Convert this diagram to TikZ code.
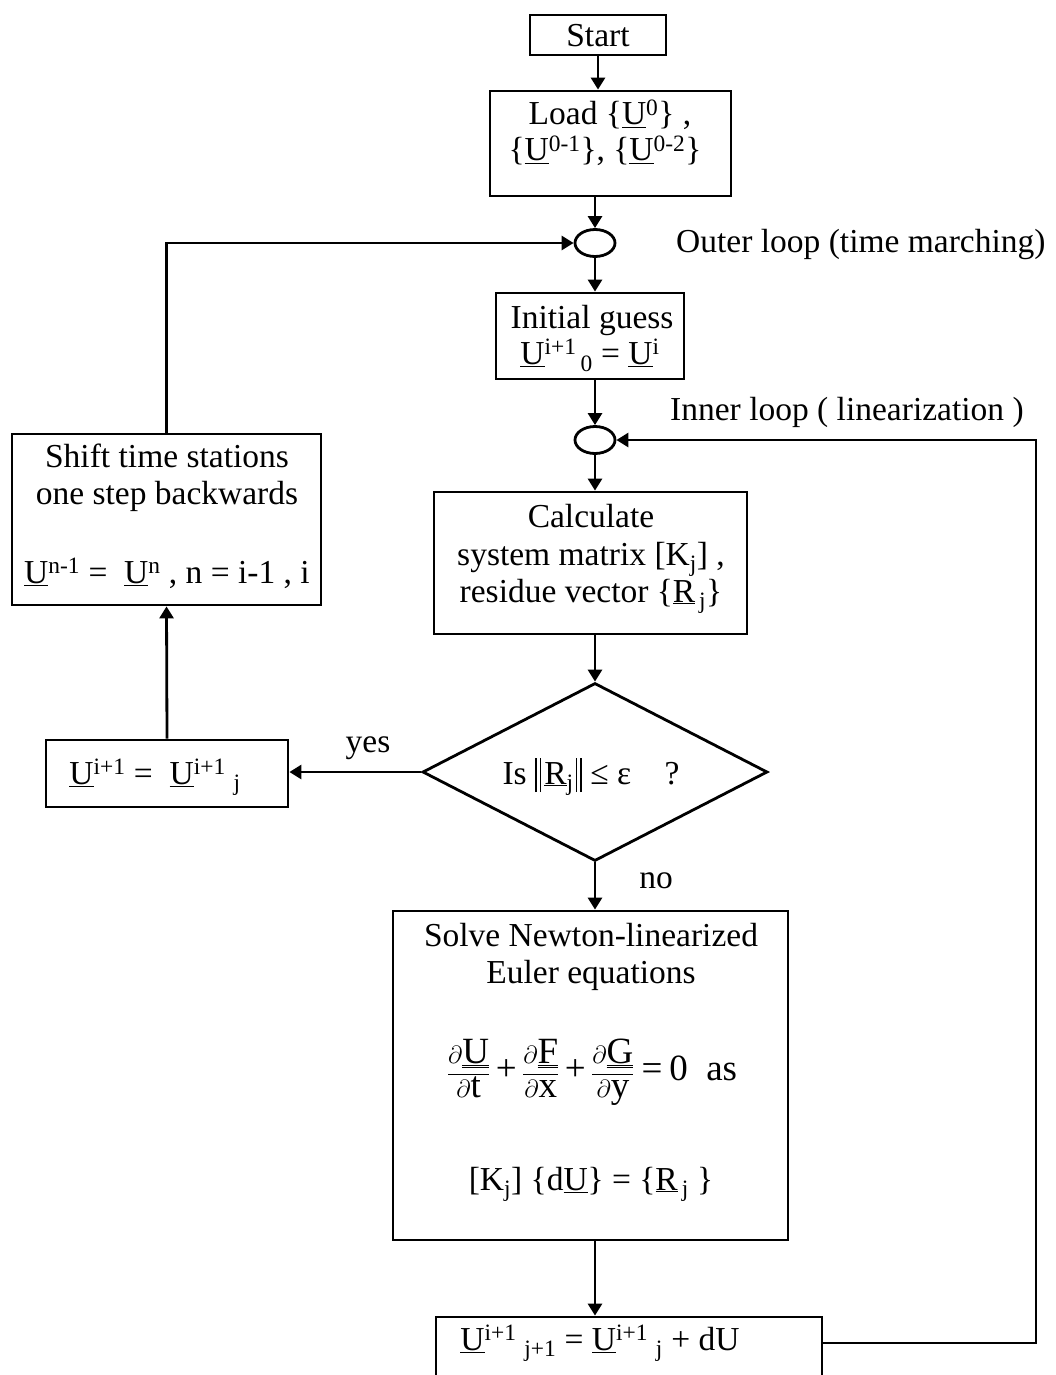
\documentclass[tikz,border=0pt]{standalone}
\usepackage{fontspec}
\setmainfont{Liberation Serif}
\usetikzlibrary{arrows.meta,shapes.geometric}
\newcommand{\uU}{\underline{U}}
\newcommand{\sups}[1]{\textsuperscript{#1}}
\newcommand{\subs}[1]{\textsubscript{#1}}
\newcommand{\tplus}{\mathbin{\textnormal{+}}}
\newcommand{\teq}{\mathrel{\textnormal{=}}}
\newcommand{\nbar}{\rule[-8pt]{1.6pt}{34pt}\hspace{3pt}\rule[-8pt]{1.6pt}{34pt}}
\begin{document}
\begin{tikzpicture}[x=1pt,y=-1pt,
  every node/.style={font=\fontsize{33.5}{38}\selectfont, inner sep=0pt},
  box/.style={draw, line width=2.8pt},
  txt/.style={anchor=base},
  loopc/.style={draw, ellipse, line width=2.8pt, minimum width=40pt, minimum height=27pt},
  flow/.style={line width=2.8pt, -{Triangle[length=12pt,width=14pt]}},
  plain/.style={line width=2.8pt}]
\useasboundingbox (0,0) rectangle (1056,1375);

% boxes
\node[box, minimum width=136pt, minimum height=40pt] (start) at (598,35) {};
\node[txt] (startt) at (598,47) {Start};

\node[box, minimum width=241pt, minimum height=105pt] (load) at (610.5,143.5) {};
\node[txt] (loadt1) at (610,125) {Load \{\uU\sups{0}\} ,};
\node[txt] (loadt2) at (605,161) {\{\uU\sups{0-1}\}, \{\uU\sups{0-2}\}};

\node[loopc] (oc) at (595,243) {};
\node[txt, anchor=base west] (outer) at (676,252) {Outer loop (time marching)};

\node[box, minimum width=188pt, minimum height=86pt] (init) at (590,336) {};
\node[txt] (initt1) at (592,328) {Initial guess};
\node[txt] (initt2) at (590,364) {\uU\sups{i+1}\subs{\,0} = \uU\sups{i}};

\node[loopc] (ic) at (595,440) {};
\node[txt, anchor=base west] (inner) at (670,420) {Inner loop ( linearization )};

\node[box, minimum width=313pt, minimum height=142pt] (calc) at (590.5,563) {};
\node[txt] (calct1) at (591,527) {Calculate};
\node[txt] (calct2) at (591,565) {system matrix [K\subs{j}] ,};
\node[txt] (calct3) at (591,602) {residue vector \{\underline{R}\subs{\,j}\}};

\node[draw, diamond, line width=2.8pt, minimum width=345pt, minimum height=178pt] (dia) at (595,772) {};
\node[txt] (diat) at (591,784) {Is \nbar\hspace{3pt}\underline{R}\subs{j}\hspace{2pt}\nbar\ ≤ ε\quad ?};

\node[box, minimum width=242pt, minimum height=67pt] (ybox) at (167,773.5) {};
\node[txt] (yboxt) at (155,784) {\uU\sups{i+1} = \ \uU\sups{i+1}\subs{\,\,j}};
\node[txt] (yes) at (368,752) {yes};
\node[txt] (no) at (656,888) {no};

\node[box, minimum width=309pt, minimum height=171pt] (shift) at (166.5,519.5) {};
\node[txt] (shiftt1) at (167,467) {Shift time stations};
\node[txt] (shiftt2) at (167,504) {one step backwards};
\node[txt] (shiftt3) at (167,583) {\uU\sups{n-1} = \ \uU\sups{n} , n = i-1 , i};

\node[box, minimum width=395pt, minimum height=329pt] (solve) at (590.5,1075.5) {};
\node[txt] (solvet1) at (591,946) {Solve Newton-linearized};
\node[txt] (solvet2) at (591,983) {Euler equations};
\node[font=\fontsize{37}{42}\selectfont] (solvet3) at (592,1072) {$\displaystyle
  \frac{\partial\underline{\underline{\mathrm{U}}}}{\partial\mathrm{t}}
  \tplus\frac{\partial\underline{\underline{\mathrm{F}}}}{\partial\mathrm{x}}
  \tplus\frac{\partial\underline{\underline{\mathrm{G}}}}{\partial\mathrm{y}}
  \teq \mathrm{0}$\ \ as};
\node[txt] (solvet4) at (591,1190) {[K\subs{j}] \{d\uU\} = \{\underline{R}\subs{\,j} \}};

\node[box, minimum width=386pt, minimum height=90pt] (upd) at (629,1362) {};
\node[txt] (updt) at (600,1350) {\uU\sups{i+1}\subs{\,\,j+1} = \uU\sups{i+1}\subs{\,\,j} + dU};

\coordinate (rbot) at (1036,1343);
\coordinate (rtop) at (1036,440);

% connectors
\draw[flow] (start.south) -- (start.south |- load.north);
\draw[flow] (oc.north |- load.south) -- (oc.north);
\draw[flow] (oc.south) -- (oc.south |- init.north);
\draw[flow] (ic.north |- init.south) -- (ic.north);
\draw[flow] (ic.south) -- (ic.south |- calc.north);
\draw[flow] (dia.north |- calc.south) -- (dia.north);
\draw[flow] (dia.south) -- (dia.south |- solve.north);
\draw[flow] (dia.south |- solve.south) -- (dia.south |- upd.north);
\draw[flow] (dia.west) -- (dia.west -| ybox.east);
\draw[flow] (ybox.north) -- (shift.south);
\draw[flow] (shift.north) |- (oc.west);
\draw[flow] (rbot -| upd.east) -- (rbot) -- (rtop) -- (ic.east);
\end{tikzpicture}
\end{document}
